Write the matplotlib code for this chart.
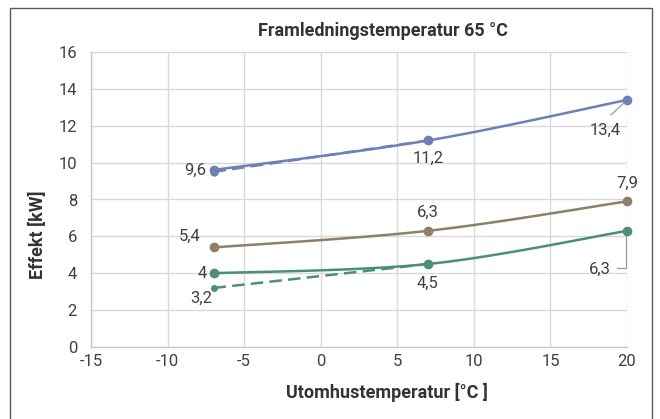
import numpy as np
import matplotlib
matplotlib.use("Agg")
import matplotlib.pyplot as plt
from matplotlib.patches import Rectangle
from matplotlib.transforms import offset_copy

plt.rcParams['font.family'] = ['Roboto', 'DejaVu Sans']

# Data
temps = [-7, 7, 20]
blue_vals = [9.6, 11.2, 13.4]
brown_vals = [5.4, 6.3, 7.9]
green_vals = [4.0, 4.5, 6.3]
blue_dash_t = [-7, 7]
blue_dash_vals = [9.5, 11.2]
green_dash_t = [-7, 7]
green_dash_vals = [3.2, 4.5]
xticks = [-15, -10, -5, 0, 5, 10, 15, 20]
yticks = [0, 2, 4, 6, 8, 10, 12, 14, 16]

c_blue = '#6f80b9'
c_brown = '#8e7f66'
c_green = '#4b9074'
c_text = '#404040'
c_lead = '#999999'


def smooth(xs, ys, n=40):
    """Excel-like smoothed curve through points (Catmull-Rom Bezier)."""
    P = np.column_stack([xs, ys]).astype(float)
    if len(P) < 3:
        return P[:, 0], P[:, 1]
    ext = np.vstack([P[0], P, P[-1]])
    out = []
    t = np.linspace(0, 1, n)[:, None]
    for i in range(1, len(ext) - 2):
        p0, p1, p2, p3 = ext[i - 1], ext[i], ext[i + 1], ext[i + 2]
        c1 = p1 + (p2 - p0) / 6
        c2 = p2 - (p3 - p1) / 6
        seg = ((1 - t) ** 3) * p1 + 3 * ((1 - t) ** 2) * t * c1 + 3 * (1 - t) * t ** 2 * c2 + t ** 3 * p2
        out.append(seg if i == 1 else seg[1:])
    out = np.vstack(out)
    return out[:, 0], out[:, 1]


fig = plt.figure(figsize=(6.6, 4.19), dpi=100)
W, H = 660, 419
ax = fig.add_axes([91 / W, 1 - 347 / H, (627 - 91) / W, (347 - 52) / H])

# outer frame
fig.patches.append(Rectangle((10 / W, -0.01), (652 - 10) / W, 1 - 8 / H + 0.01,
                             transform=fig.transFigure, fill=False,
                             edgecolor='#595959', linewidth=1.0))

ax.set_xlim(-15, 20)
ax.set_ylim(0, 16)
ax.set_xticks(xticks)
ax.set_yticks(yticks)
ax.set_xticklabels([str(v) for v in xticks])
ax.set_yticklabels([str(v) for v in yticks])
ax.grid(True, color='#d9d9d9', linewidth=1.0)
ax.set_axisbelow(True)
for s in ['top', 'right']:
    ax.spines[s].set_visible(False)
for s in ['left', 'bottom']:
    ax.spines[s].set_color('#c8c8c8')
    ax.spines[s].set_linewidth(1.0)
ax.tick_params(length=0, labelsize=12, colors=c_text, pad=5)
ax.tick_params(axis='y', pad=10)

# dashed series
ax.plot(blue_dash_t, blue_dash_vals, color=c_blue, lw=1.8, ls=(0, (5, 2.5)), zorder=3)
ax.plot(blue_dash_t[:1], blue_dash_vals[:1], 'o', color=c_blue, ms=5, zorder=4)
ax.plot(green_dash_t, green_dash_vals, color=c_green, lw=1.8, ls=(0, (5, 2.5)), zorder=3)
ax.plot(green_dash_t[:1], green_dash_vals[:1], 'o', color=c_green, ms=4, zorder=4)

# solid smoothed series
for vals, col in [(blue_vals, c_blue), (brown_vals, c_brown), (green_vals, c_green)]:
    sx, sy = smooth(temps, vals)
    ax.plot(sx, sy, color=col, lw=1.8, zorder=3, clip_on=False)
    ax.plot(temps, vals, 'o', color=col, ms=6, zorder=4, clip_on=False)


def fmt(v):
    s = ('%.1f' % v).replace('.', ',')
    return s[:-2] if s.endswith(',0') else s


def lab(x, y, dx, dy, ha='center', va='center'):
    ax.annotate(fmt(y), (x, y), xytext=(dx, dy), textcoords='offset pixels',
                ha=ha, va=va, fontsize=12, color=c_text, zorder=5)


def leader(x, y, pts):
    xs, ys = [], []
    for dx, dy in pts:
        t = offset_copy(ax.transData, fig=fig, x=dx, y=dy, units='dots')
        disp = t.transform((x, y))
        xs.append(disp[0])
        ys.append(disp[1])
    ln = plt.Line2D(xs, ys, transform=None, color=c_lead, lw=0.9, zorder=5)
    ln.set_clip_on(False)
    fig.add_artist(ln)


# blue labels
lab(temps[0], blue_vals[0], -7, 0, ha='right')
lab(temps[1], blue_vals[1], 0, -18)
lab(temps[2], blue_vals[2], -22, -30)
leader(temps[2], blue_vals[2], [(-3, -3), (-16, -15)])
# brown labels
lab(temps[0], brown_vals[0], -24, 11)
lab(temps[1], brown_vals[1], 0, 19)
lab(temps[2], brown_vals[2], 0, 18)
# green labels
lab(temps[0], green_vals[0], -7, 0, ha='right')
lab(green_dash_t[0], green_dash_vals[0], -12, -10)
lab(temps[1], green_vals[1], 0, -19)
lab(temps[2], green_vals[2], -27, -38)
leader(temps[2], green_vals[2], [(-1.5, -5), (-1.5, -37), (-10, -37)])

fig.text(383 / W, 1 - 31 / H, 'Framledningstemperatur 65 °C', ha='center', va='center',
         fontsize=13, fontweight='bold', color='#333333')
fig.text(387 / W, 1 - 392 / H, 'Utomhustemperatur [°C ]', ha='center', va='center',
         fontsize=13, fontweight='bold', color='#333333')
fig.text(38 / W, 1 - 235 / H, 'Effekt [kW]', ha='center', va='center', rotation=90,
         fontsize=13, fontweight='bold', color='#333333')

fig.savefig('out.png', dpi=100)
